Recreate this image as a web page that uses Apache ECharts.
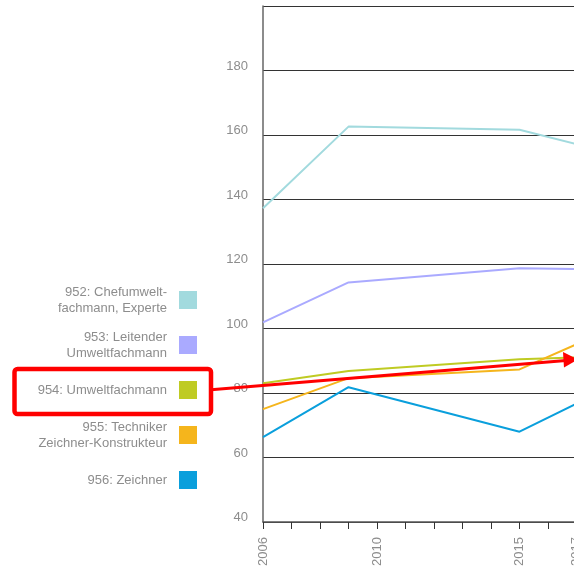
<!DOCTYPE html>
<html>
<head>
<meta charset="utf-8">
<style>
  html, body { margin: 0; padding: 0; background: #fff; }
  #chart { width: 574px; height: 569px; }
</style>
<script src="https://cdn.jsdelivr.net/npm/echarts@6/dist/echarts.min.js"></script>
</head>
<body>
<div id="chart"></div>
<script>
// Survey years and salary index per occupation group
const years = [2006, 2009, 2015, 2017];
const seriesNames = [
  '952: Chefumwelt-\nfachmann, Experte',
  '953: Leitender\nUmweltfachmann',
  '954: Umweltfachmann',
  '955: Techniker\nZeichner-Konstrukteur',
  '956: Zeichner'
];
const values952 = [137.3, 162.6, 161.6, 157.2];
const values953 = [101.9, 114.3, 118.7, 118.4];
const values954 = [83.0, 86.8, 90.5, 91.0];
const values955 = [75.0, 84.6, 87.3, 95.1];
const values956 = [66.3, 81.8, 68.0, 76.7];
const seriesColors = ['#a2dade', '#aaaaff', '#bfcb23', '#f5b51c', '#0a9fdc'];
const xTickLabels = [2006, 2010, 2015, 2017];

const allValues = [values952, values953, values954, values955, values956];

const chart = echarts.init(document.getElementById('chart'), null, { renderer: 'canvas' });

const font = '"Liberation Sans", Arial, sans-serif';
const grey = '#8d8d8d';

const series = seriesNames.map((name, i) => ({
  name: name,
  type: 'line',
  data: years.map((y, j) => [y, allValues[i][j]]),
  showSymbol: false,
  symbol: 'none',
  lineStyle: { color: seriesColors[i], width: 2 },
  itemStyle: { color: seriesColors[i] },
  animation: false
}));

// Two-line legend entries sit a little lower than their swatch
const legendData = seriesNames.map(name => {
  const twoLines = name.indexOf('\n') >= 0;
  return {
    name: name,
    textStyle: twoLines
      ? { padding: [10, 7, 0, 0], height: 22 }
      : { padding: [0, 7, 4, 0], height: 28 }
  };
});

chart.setOption({
  animation: false,
  textStyle: { fontFamily: font },
  grid: { left: 263, top: 6, width: 399, height: 516, outerBoundsMode: 'none', containLabel: false },
  legend: {
    orient: 'vertical',
    align: 'right',
    right: 372,
    top: 279,
    itemWidth: 18,
    itemHeight: 18,
    itemGap: 13,
    icon: 'rect',
    selectedMode: false,
    data: legendData,
    textStyle: {
      fontFamily: font,
      fontSize: 13,
      color: grey,
      lineHeight: 16,
      height: 32,
      padding: [0, 7, 0, 0]
    }
  },
  xAxis: {
    type: 'value',
    min: 2006,
    max: 2020,
    interval: 1,
    axisLine: { show: true, lineStyle: { color: '#555', width: 1.5 } },
    axisTick: { show: true, length: 7, lineStyle: { color: '#333', width: 1 } },
    splitLine: { show: false },
    axisLabel: {
      rotate: 90,
      margin: 15,
      fontSize: 13,
      color: grey,
      fontFamily: font,
      formatter: v => (xTickLabels.indexOf(v) >= 0 ? String(v) : '')
    }
  },
  yAxis: {
    type: 'value',
    min: 40,
    max: 200,
    interval: 20,
    axisLine: { show: true, lineStyle: { color: '#666', width: 1.5 } },
    axisTick: { show: false },
    splitLine: { show: true, lineStyle: { color: '#333', width: 1 } },
    axisLabel: {
      margin: 15,
      fontSize: 13,
      color: grey,
      fontFamily: font,
      showMaxLabel: false,
      verticalAlign: 'bottom',
      lineHeight: 9
    }
  },
  series: series,
  graphic: [
    {
      type: 'rect',
      shape: { x: 14.5, y: 369, width: 196.5, height: 45, r: 3 },
      style: { fill: null, stroke: '#ff0000', lineWidth: 4.5 },
      z: 100
    },
    {
      type: 'line',
      shape: { x1: 211, y1: 389.8, x2: 566, y2: 360.5 },
      style: { stroke: '#ff0000', lineWidth: 3 },
      z: 100
    },
    {
      type: 'polygon',
      shape: { points: [[563, 352], [578, 359.5], [564, 367.5]] },
      style: { fill: '#ff0000' },
      z: 100
    }
  ]
});
</script>
</body>
</html>
